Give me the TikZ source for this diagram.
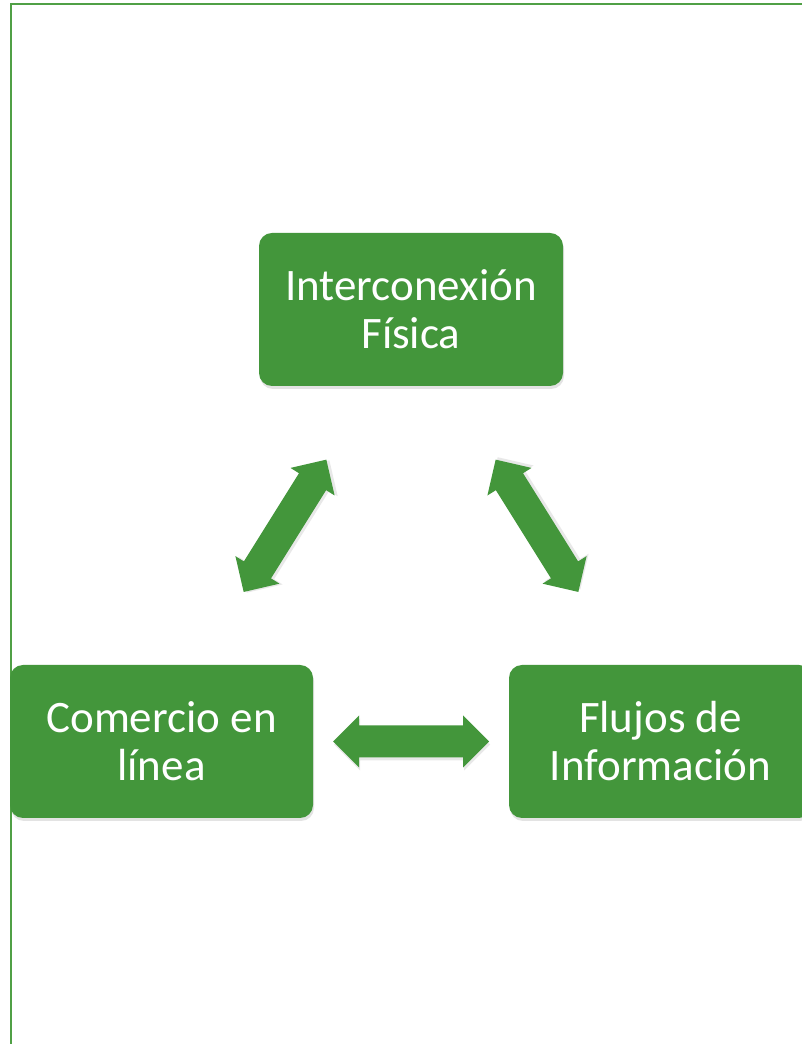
\documentclass[tikz,border=0pt]{standalone}
\usepackage{fontspec}
\setmainfont{Carlito}
\usetikzlibrary{shadows}
\definecolor{boxgreen}{RGB}{67,150,59}
\definecolor{framegreen}{RGB}{80,160,70}
\tikzset{
  greenbox/.style={fill=boxgreen, rounded corners=13pt, minimum width=304pt, minimum height=153pt,
    text=white, align=center, inner sep=0pt, font=\fontsize{45}{48}\selectfont,
    drop shadow={shadow xshift=1pt, shadow yshift=-3pt, opacity=0.18, fill=black!60}},
  arrowfill/.style={fill=boxgreen},
  arrowshadow/.style={fill=black!60, opacity=0.15}
}
\newcommand\blockarrow[3]{%
  \begin{scope}[shift={(#1,#2)}, rotate=#3]
    \fill[arrowshadow, shift={(1pt,-3pt)}] (-78,0) -- (-52,26) -- (-52,16) -- (52,16) -- (52,26) -- (78,0) -- (52,-26) -- (52,-16) -- (-52,-16) -- (-52,-26) -- cycle;
  \end{scope}
  \begin{scope}[shift={(#1,#2)}, rotate=#3]
    \fill[arrowfill] (-78,0) -- (-52,26) -- (-52,16) -- (52,16) -- (52,26) -- (78,0) -- (52,-26) -- (52,-16) -- (-52,-16) -- (-52,-26) -- cycle;
  \end{scope}}
\begin{document}
\begin{tikzpicture}[x=1pt,y=1pt]
  \useasboundingbox (0,0) rectangle (802,1044);
  \clip (0,0) rectangle (802,1044);
  \fill[white] (0,0) rectangle (802,1044);
  \draw[framegreen, line width=2pt] (10.5,1039.5) rectangle (830,-20);
  \node[greenbox] (fis) at (411,734.5) {Interconexión\\Física};
  \node[greenbox, minimum width=303pt] (com) at (161.5,302.5) {Comercio en\\línea};
  \node[greenbox, minimum width=303pt] (flu) at (660.5,302.5) {Flujos de\\Información};
  \coordinate (a1) at (285,518.2);
  \coordinate (a2) at (537,518.2);
  \coordinate (a3) at (411,302.5);
  \blockarrow{285}{518.2}{58}
  \blockarrow{537}{518.2}{122}
  \blockarrow{411}{302.5}{0}
\end{tikzpicture}
\end{document}
